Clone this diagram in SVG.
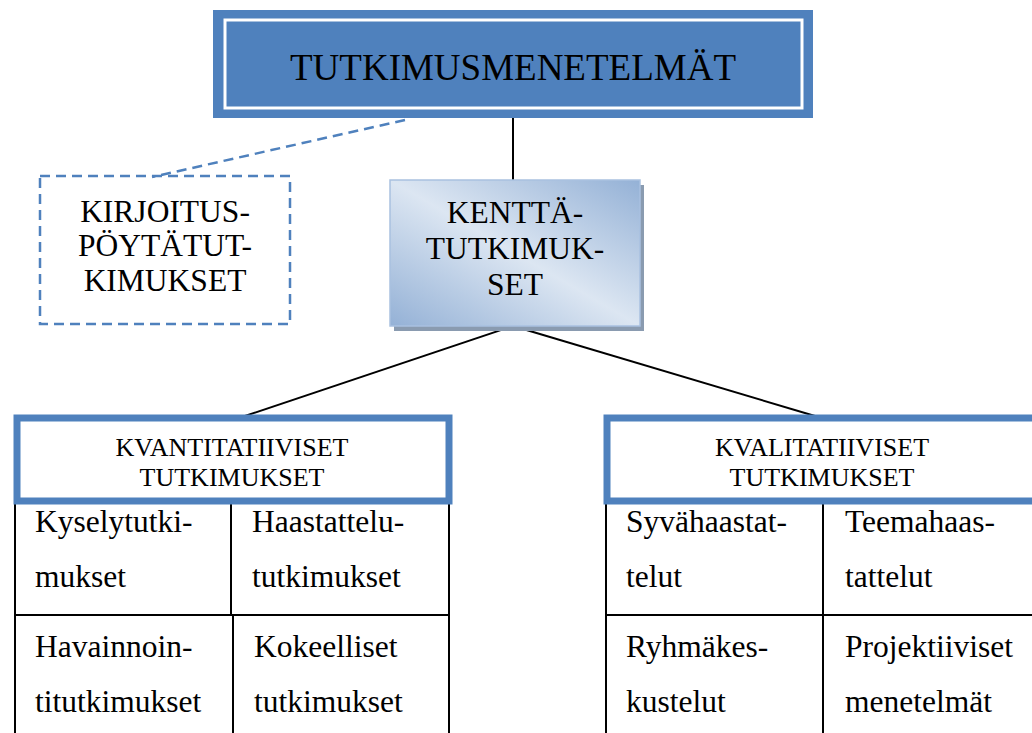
<svg xmlns="http://www.w3.org/2000/svg" width="1032" height="733" viewBox="0 0 1032 733" font-family="'Liberation Serif', 'Times New Roman', serif">
  <defs>
    <linearGradient id="fieldGrad" x1="0" y1="1" x2="1" y2="0">
      <stop offset="0" stop-color="#94b1d6"/>
      <stop offset="0.5" stop-color="#dce6f2"/>
      <stop offset="1" stop-color="#94b1d6"/>
    </linearGradient>
    <style>
      text { font-family: 'Liberation Serif', 'Times New Roman', serif; fill: #000; }
      .conn { stroke: #000; stroke-width: 2; fill: none; }
      .dash { stroke: #4f81bd; stroke-width: 2.5; stroke-dasharray: 10 6; fill: none; }
      .head { fill: #fff; stroke: #4f81bd; stroke-width: 7; }
      .grid { stroke: #000; stroke-width: 2; fill: none; }
      .cell { font-size: 31.5px; }
      .hd { font-size: 26px; text-anchor: middle; }
      .mid { font-size: 31.5px; text-anchor: middle; }
    </style>
  </defs>

  <!-- connectors -->
  <g id="connectors">
    <line class="conn" x1="513" y1="110" x2="513" y2="181"/>
    <line class="dash" x1="405" y1="120" x2="152" y2="177"/>
    <line class="conn" x1="513" y1="326" x2="245" y2="416"/>
    <line class="conn" x1="513" y1="326" x2="815" y2="416"/>
  </g>

  <!-- root -->
  <g id="root">
    <rect x="213" y="10" width="600" height="108" fill="#4f81bd"/>
    <rect x="225" y="20" width="577" height="88" fill="none" stroke="#fff" stroke-width="3"/>
    <text x="513" y="80" font-size="37" text-anchor="middle">TUTKIMUSMENETELMÄT</text>
  </g>

  <!-- desk studies -->
  <g id="desk">
    <rect x="40" y="176" width="250" height="148" fill="none" class="dash"/>
    <text class="mid" x="165" y="222">KIRJOITUS-</text>
    <text class="mid" x="165" y="256">PÖYTÄTUT-</text>
    <text class="mid" x="165" y="291">KIMUKSET</text>
  </g>

  <!-- field studies -->
  <g id="field">
    <rect x="394" y="185" width="250" height="146" fill="#8a9bb0"/>
    <rect x="390" y="180" width="250" height="146" fill="url(#fieldGrad)" stroke="#a9c1e0" stroke-width="1.5"/>
    <text class="mid" x="515" y="223">KENTTÄ-</text>
    <text class="mid" x="515" y="259">TUTKIMUK-</text>
    <text class="mid" x="515" y="295">SET</text>
  </g>

  <!-- quantitative -->
  <g id="quantitative">
    <path class="grid" d="M15,502 V733 M449,502 V733 M15,615 H449 M231,502 V615 M233,615 V733"/>
    <rect class="head" x="17" y="418" width="432" height="83"/>
    <text class="hd" x="232" y="456">KVANTITATIIVISET</text>
    <text class="hd" x="232" y="486">TUTKIMUKSET</text>
    <text class="cell" x="35" y="532">Kyselytutki-</text>
    <text class="cell" x="35" y="587">mukset</text>
    <text class="cell" x="252" y="532">Haastattelu-</text>
    <text class="cell" x="252" y="587">tutkimukset</text>
    <text class="cell" x="35" y="657">Havainnoin-</text>
    <text class="cell" x="35" y="712">titutkimukset</text>
    <text class="cell" x="254" y="657">Kokeelliset</text>
    <text class="cell" x="254" y="712">tutkimukset</text>
  </g>

  <!-- qualitative -->
  <g id="qualitative">
    <path class="grid" d="M606,502 V733 M606,615 H1032 M823,502 V733"/>
    <rect class="head" x="607" y="418" width="432" height="83"/>
    <text class="hd" x="822" y="456">KVALITATIIVISET</text>
    <text class="hd" x="822" y="486">TUTKIMUKSET</text>
    <text class="cell" x="626" y="532">Syvähaastat-</text>
    <text class="cell" x="626" y="587">telut</text>
    <text class="cell" x="845" y="532">Teemahaas-</text>
    <text class="cell" x="845" y="587">tattelut</text>
    <text class="cell" x="626" y="657">Ryhmäkes-</text>
    <text class="cell" x="626" y="712">kustelut</text>
    <text class="cell" x="845" y="657">Projektiiviset</text>
    <text class="cell" x="845" y="712">menetelmät</text>
  </g>
</svg>
